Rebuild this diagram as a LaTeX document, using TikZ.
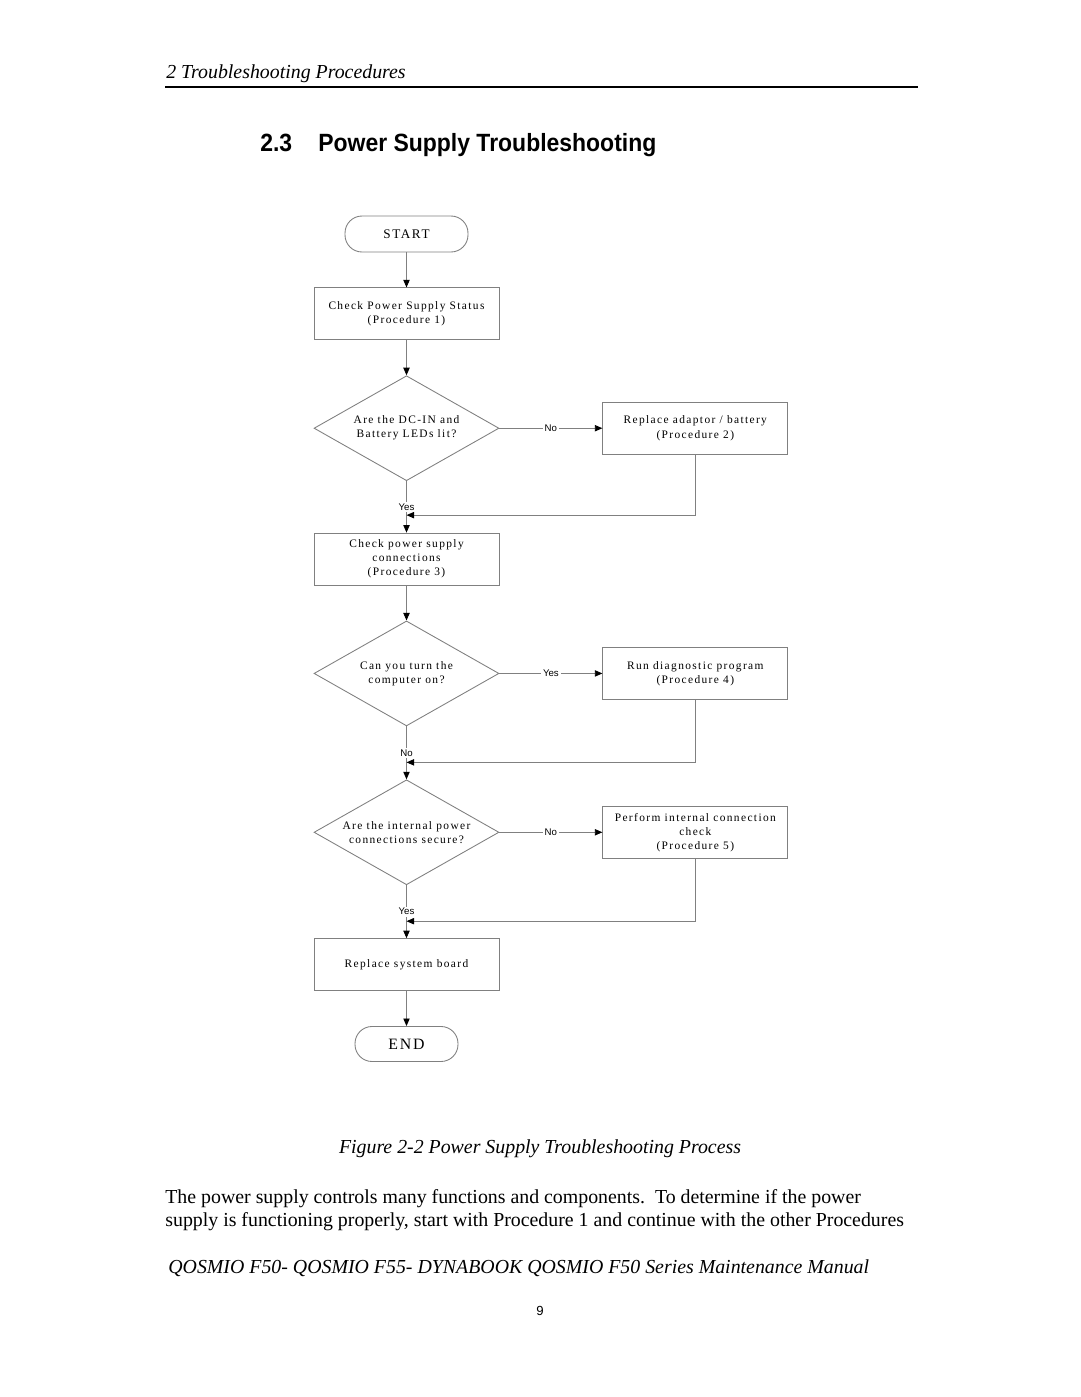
\documentclass[tikz,border=0pt]{standalone}
\usepackage{fontspec}
\setmainfont{Liberation Serif}
\newfontfamily\chartfont[LetterSpace=12]{Liberation Serif}
\newfontfamily\headfont[FakeStretch=0.92]{Liberation Sans}
\newfontfamily\labelfont{Liberation Sans}
\usetikzlibrary{positioning, shapes.geometric, arrows.meta}

\begin{document}
\begin{tikzpicture}[
            x=0.02cm, y=-0.02cm,
            node distance=0.7cm,
            linecol/.style={draw=black!50, line width=0.5pt},
            terminal/.style={linecol, rounded corners=0.34cm, inner sep=0pt, font=\chartfont\fontsize{7.5}{9}\selectfont},
            box/.style={linecol, align=center, minimum width=3.7cm, minimum height=1.04cm, inner sep=1pt, font=\chartfont\fontsize{6.5}{8}\selectfont},
            decision/.style={linecol, diamond, aspect=1.76, align=center, minimum width=3.7cm, minimum height=2.1cm, inner sep=0pt, font=\chartfont\fontsize{6.5}{8}\selectfont},
            lbl/.style={fill=white, inner sep=1pt, font=\labelfont\fontsize{5.5}{6}\selectfont},
            page/.style={inner sep=0pt, font=\fontsize{11.3}{13}\selectfont},
            arrow/.style={linecol, -{Triangle[length=4.3pt, width=3.6pt, color=black]}}
          ]
        \useasboundingbox (0,0) rectangle (1080,1397);

        % page text
        \node[page, anchor=base west] (header) at (166,78) {\itshape 2 Troubleshooting Procedures};
        \draw[line width=1.7pt] (165,87) -- (918,87);
        \node[inner sep=0pt, anchor=base west, font=\headfont\bfseries\fontsize{14.2}{17}\selectfont] (secnum) at (260,151) {2.3};
        \node[inner sep=0pt, anchor=base west, font=\headfont\bfseries\fontsize{14.2}{17}\selectfont] (title) at (318,151) {Power Supply Troubleshooting};

        % flowchart
        \node[terminal, minimum width=2.46cm, minimum height=0.72cm] (start) at (406.5,234) {START};
        \node[box] (status) [below=0.7cm of start] {Check Power Supply Status\\(Procedure 1)};
        \node[decision] (leds) [below=of status] {Are the DC-IN and\\Battery LEDs lit?};
        \node[box] (adaptor) [right=2.06cm of leds] {Replace adaptor / battery\\(Procedure 2)};
        \node[box] (supply) [below=1.03cm of leds] {Check power supply\\connections\\(Procedure 3)};
        \node[decision] (turnon) [below=of supply] {Can you turn the\\computer on?};
        \node[box] (diag) [right=2.06cm of turnon] {Run diagnostic program\\(Procedure 4)};
        \node[decision] (internal) [below=1.06cm of turnon] {Are the internal power\\connections secure?};
        \node[box] (conncheck) [right=2.06cm of internal] {Perform internal connection\\check\\(Procedure 5)};
        \node[box] (sysboard) [below=1.06cm of internal] {Replace system board};
        \node[terminal, minimum width=2.06cm, minimum height=0.7cm, font=\chartfont\fontsize{9}{10}\selectfont] (finish) [below=of sysboard] {END};

        \coordinate (join1) at ([yshift=-0.68cm]leds.south);
        \coordinate (join2) at ([yshift=-0.72cm]turnon.south);
        \coordinate (join3) at ([yshift=-0.72cm]internal.south);

        \draw[arrow] (start) -- (status);
        \draw[arrow] (status) -- (leds);
        \draw[arrow] (leds) -- node[lbl] {No} (adaptor);
        \draw[arrow] (leds) -- node[lbl] {Yes} (supply);
        \draw[arrow] (adaptor) |- (join1);
        \draw[arrow] (supply) -- (turnon);
        \draw[arrow] (turnon) -- node[lbl] {Yes} (diag);
        \draw[arrow] (turnon) -- node[lbl] {No} (internal);
        \draw[arrow] (diag) |- (join2);
        \draw[arrow] (internal) -- node[lbl] {No} (conncheck);
        \draw[arrow] (internal) -- node[lbl] {Yes} (sysboard);
        \draw[arrow] (conncheck) |- (join3);
        \draw[arrow] (sysboard) -- (finish);

        % caption and body
        \node[page, anchor=base] (caption) at (540,1153) {\itshape Figure 2-2 Power Supply Troubleshooting Process};
        \node[page, anchor=base west, align=left] (para) at (165,1226) {The power supply controls many functions and components.\ \ To determine if the power\\supply is functioning properly, start with Procedure 1 and continue with the other Procedures};
        \node[page, anchor=base west] (footer) at (168,1273) {\itshape QOSMIO F50- QOSMIO F55- DYNABOOK QOSMIO F50 Series Maintenance Manual};
        \node[inner sep=0pt, anchor=base, font=\labelfont\fontsize{7.5}{9}\selectfont] (pagenum) at (540,1315) {9};

        \end{tikzpicture}
\end{document}
